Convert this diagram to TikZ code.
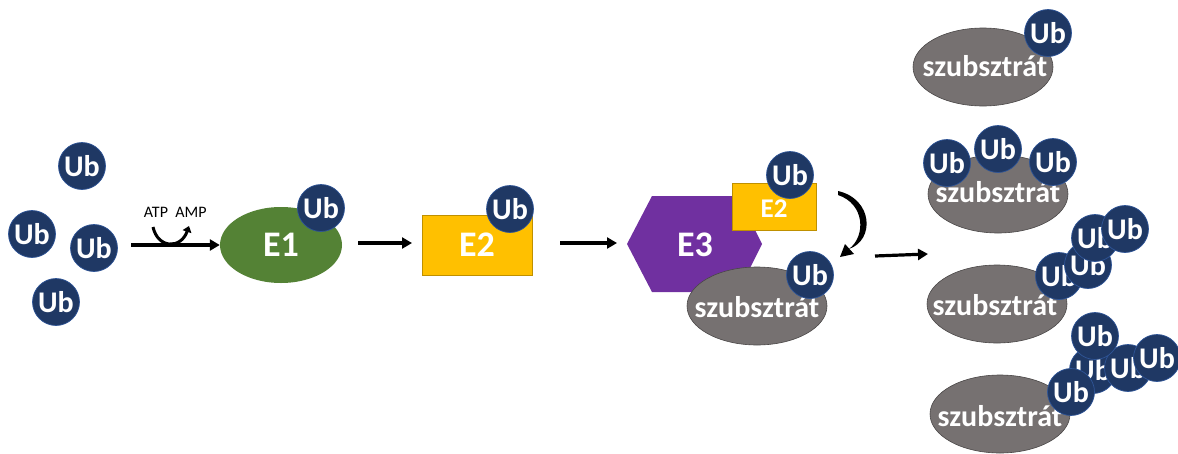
\documentclass[tikz,border=0pt]{standalone}
\usepackage{fontspec}
\setmainfont{Carlito}
\usetikzlibrary{arrows.meta,shapes.geometric}
\definecolor{ubblue}{HTML}{1F3864}
\definecolor{ubedge}{HTML}{2F5597}
\definecolor{egreen}{HTML}{548235}
\definecolor{eorange}{HTML}{FFC000}
\definecolor{eorangeedge}{HTML}{BF9000}
\definecolor{epurple}{HTML}{7030A0}
\definecolor{sgray}{HTML}{767171}
\definecolor{sgrayedge}{HTML}{4A4747}
\tikzset{
  ub/.style={circle, fill=ubblue, draw=ubedge, line width=0.7pt, minimum size=47pt, inner sep=0pt, text=white, font=\bfseries\fontsize{30}{30}\selectfont},
  sub/.style={ellipse, fill=sgray, draw=sgrayedge, line width=0.6pt, minimum width=140pt, minimum height=78pt, inner sep=0pt},
  subtxt/.style={text=white, font=\bfseries\fontsize{30}{30}\selectfont, inner sep=0pt},
  lbl/.style={text=white, font=\bfseries\fontsize{36}{36}\selectfont},
  arr/.style={line width=3.2pt, -{Triangle[length=10pt,width=11pt]}},
}
\begin{document}
\begin{tikzpicture}[x=1pt,y=-1pt]
\useasboundingbox (0,0) rectangle (1178,453);
% free Ub
\node[ub] (u1) at (82,166) {Ub};
\node[ub] (u2) at (32,234) {Ub};
\node[ub] (u3) at (94,248) {Ub};
\node[ub] (u4) at (56,302) {Ub};
% ATP arrow
\coordinate (a0) at (131,245);
\node[ellipse, fill=egreen, minimum width=122pt, minimum height=76pt, inner sep=0pt, lbl] (e1) at (281,245) {E1};
\draw[arr] (a0) -- (e1.west);
\node[font=\fontsize{16}{16}\selectfont] (atp) at (156,212) {ATP};
\node[font=\fontsize{16}{16}\selectfont] (amp) at (191,212) {AMP};
\coordinate (c0) at (153,227);
\coordinate (c1) at (189,226);
\draw[line width=3pt, -{Triangle[length=6pt,width=9pt]}] (c0) .. controls (158,249) and (181,249) .. (c1);
\node[ub] (ue1) at (321,208) {Ub};
% E2
\node[rectangle, fill=eorange, draw=eorangeedge, line width=0.5pt, minimum width=110pt, minimum height=60pt, inner sep=0pt, lbl] (e2) at (477,245) {E2};
\node[ub] (ue2) at (510,209) {Ub};
\coordinate (b0) at (358,243);
\draw[arr] (b0) -- (412,243) coordinate (b1);
% E3 complex
\coordinate (e3c) at (695,244);
\fill[epurple] ([shift={(-68,0)}]e3c) -- ([shift={(-43,-48)}]e3c) -- ([shift={(43,-48)}]e3c) -- ([shift={(67,0)}]e3c) -- ([shift={(43,48)}]e3c) -- ([shift={(-43,48)}]e3c) -- cycle;
\node[lbl] (e3) at (695,245) {E3};
\coordinate (d0) at (560,243);
\draw[arr] (d0) -- (617,243) coordinate (d1);
\node[rectangle, fill=eorange, draw=eorangeedge, line width=0.5pt, minimum width=84pt, minimum height=47pt, inner sep=0pt] (e2b) at (774,206.5) {};
\node[text=white, font=\bfseries\fontsize{27}{27}\selectfont] (e2bt) at (774,209) {E2};
\node[ub] (ue2b) at (790,175) {Ub};
\node[sub] (s0) at (757,306) {};
\node[subtxt] (s0t) at (757,307) {szubsztrát};
\node[ub] (us0) at (810,275) {Ub};
% curved transfer arrow (tapered)
\coordinate (r0) at (838,191);
\coordinate (r1) at (849,249);
\coordinate (rt) at (840,257);
\fill (r0) .. controls (873,199) and (875,240) .. (r1) .. controls (866,236) and (865,204) .. (838,195) -- cycle;
\fill (rt) -- (854,254) -- (845,244) -- cycle;
\coordinate (f0) at (875,256);
\draw[arr] (f0) -- (928,254) coordinate (f1);
% right column
\node[sub] (s1) at (983,67) {};
\node[subtxt] (s1t) at (985,66) {szubsztrát};
\node[ub] (v1) at (1048,33) {Ub};
\node[sub] (s2) at (998,194) {};
\node[subtxt] (s2t) at (998,192) {szubsztrát};
\node[ub] (v2a) at (947,163) {Ub};
\node[ub] (v2b) at (998,149) {Ub};
\node[ub] (v2c) at (1053,162) {Ub};
\node[sub] (s3) at (997,304) {};
\node[subtxt] (s3t) at (995,305) {szubsztrát};
\node[ub] (v3a) at (1059,276) {Ub};
\node[ub] (v3b) at (1088,265) {Ub};
\node[ub] (v3c) at (1095,238) {Ub};
\node[ub] (v3d) at (1125,229) {Ub};
\node[sub] (s4) at (1000,414) {};
\node[subtxt] (s4t) at (1000,416) {szubsztrát};
\node[ub] (v4g) at (1093,370) {Ub};
\node[ub] (v4h) at (1128,368) {Ub};
\node[ub] (v4i) at (1157,358) {Ub};
\node[ub] (v4f) at (1095,336) {Ub};
\node[ub] (v4e) at (1071,392) {Ub};
\end{tikzpicture}
\end{document}
